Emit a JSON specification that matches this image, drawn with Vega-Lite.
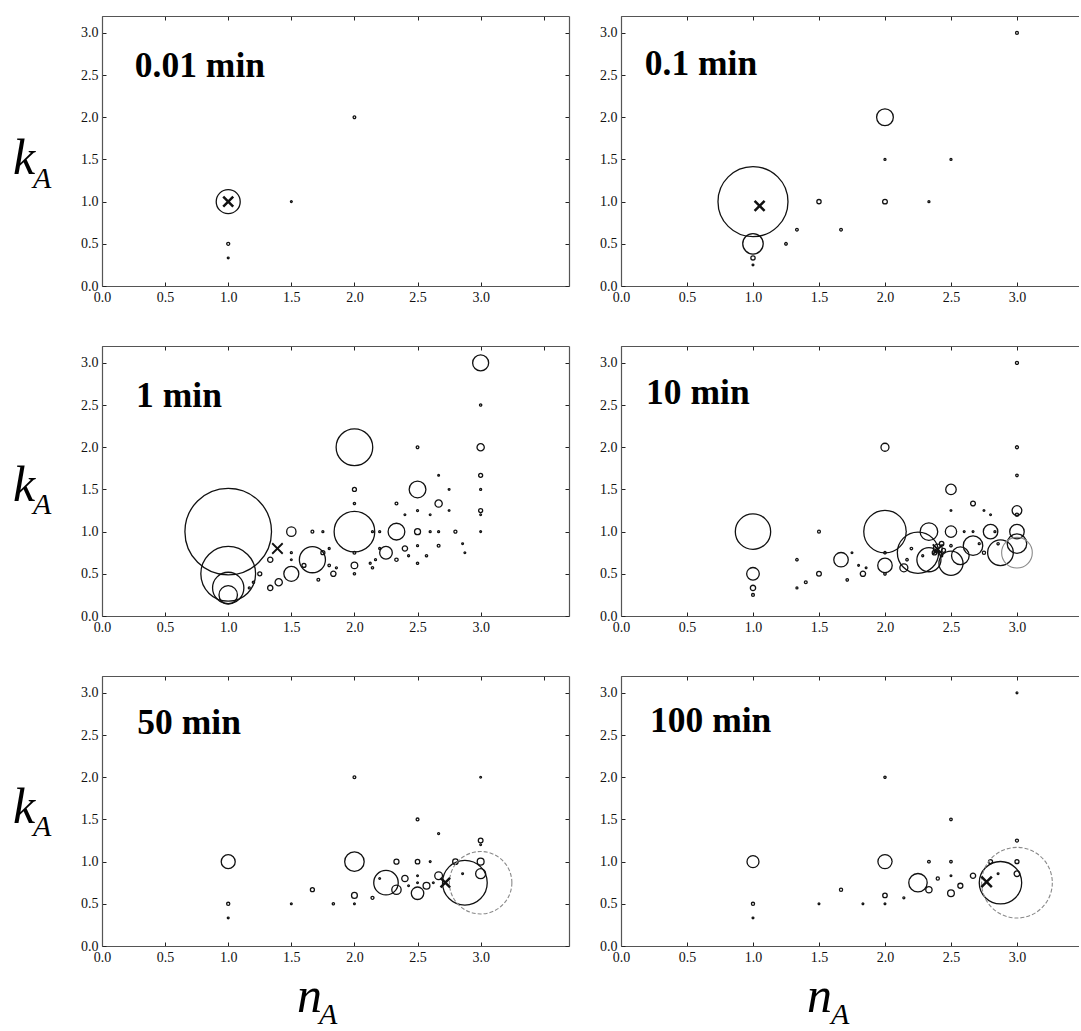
{
"$schema": "https://vega.github.io/schema/vega-lite/v6.json",
"background": "white",
"padding": {"left": 13, "top": 15, "right": 0, "bottom": 0},
"config": {
  "view": {"stroke": null},
  "point": {"filled": false, "color": "#111", "strokeWidth": 1.3, "opacity": 1},
  "text": {"font": "Liberation Serif", "color": "#000", "baseline": "alphabetic"},
  "axis": {"domainColor": "#555", "domainWidth": 1.2, "tickColor": "#222", "tickSize": -4, "tickWidth": 1, "labelFont": "Liberation Serif", "labelFontSize": 14, "labelColor": "#111", "labelPadding": 8, "labelFlush": false, "labelOverlap": false, "grid": false, "title": null}
},
"datasets": {
  "t001": [{"n":1,"k":1,"p":0.0576},{"n":1,"k":0.5,"p":0.0009},{"n":1,"k":0.333,"p":0.0003},{"n":1.5,"k":1,"p":0.0003},{"n":2,"k":2,"p":0.0007}],
  "t01": [{"n":1,"k":1,"p":0.49},{"n":1,"k":0.5,"p":0.042},{"n":1,"k":0.333,"p":0.0018},{"n":1,"k":0.25,"p":0.0003},{"n":1.25,"k":0.5,"p":0.0007},{"n":1.333,"k":0.667,"p":0.0007},{"n":1.667,"k":0.667,"p":0.0007},{"n":1.5,"k":1,"p":0.0018},{"n":2,"k":1,"p":0.0022},{"n":2.333,"k":1,"p":0.0004},{"n":2,"k":2,"p":0.028},{"n":2,"k":1.5,"p":0.0004},{"n":2.5,"k":1.5,"p":0.0004},{"n":3,"k":3,"p":0.0008}],
  "t1": [{"n":1,"k":1,"p":0.75},{"n":1,"k":0.5,"p":0.3},{"n":1,"k":0.333,"p":0.098},{"n":1,"k":0.25,"p":0.034},{"n":1.5,"k":1,"p":0.0087},{"n":1.333,"k":0.667,"p":0.0028},{"n":1.5,"k":0.5,"p":0.0225},{"n":1.667,"k":0.667,"p":0.068},{"n":1.4,"k":0.4,"p":0.0053},{"n":1.333,"k":0.333,"p":0.0028},{"n":1.25,"k":0.5,"p":0.0016},{"n":1.2,"k":0.4,"p":0.0005},{"n":1.167,"k":0.333,"p":0.0004},{"n":1.5,"k":0.75,"p":0.0004},{"n":1.5,"k":0.667,"p":0.0003},{"n":2,"k":2,"p":0.134},{"n":2,"k":1,"p":0.165},{"n":2,"k":1.5,"p":0.0016},{"n":2,"k":1.333,"p":0.0005},{"n":2,"k":0.6,"p":0.0044},{"n":2,"k":0.75,"p":0.0008},{"n":2,"k":0.5,"p":0.0005},{"n":1.75,"k":0.75,"p":0.0016},{"n":1.6,"k":0.6,"p":0.0016},{"n":1.833,"k":0.5,"p":0.0028},{"n":1.714,"k":0.429,"p":0.0008},{"n":1.8,"k":0.6,"p":0.0006},{"n":1.667,"k":1,"p":0.0008},{"n":1.75,"k":1,"p":0.0004},{"n":1.8,"k":0.8,"p":0.0004},{"n":1.857,"k":0.571,"p":0.0004},{"n":2.333,"k":1,"p":0.028},{"n":2.25,"k":0.75,"p":0.016},{"n":2.5,"k":1.5,"p":0.028},{"n":2.5,"k":1,"p":0.0036},{"n":2.4,"k":0.8,"p":0.0028},{"n":2.333,"k":0.667,"p":0.0011},{"n":2.667,"k":1.333,"p":0.0053},{"n":2.5,"k":2,"p":0.0007},{"n":2.333,"k":1.333,"p":0.0008},{"n":2.5,"k":1.25,"p":0.0004},{"n":2.4,"k":1.2,"p":0.0003},{"n":2.6,"k":1.2,"p":0.0003},{"n":2.667,"k":1.667,"p":0.0003},{"n":2.75,"k":1.5,"p":0.0003},{"n":2.75,"k":1.25,"p":0.0003},{"n":2.8,"k":1,"p":0.0009},{"n":2.6,"k":1,"p":0.0004},{"n":2.667,"k":1,"p":0.0004},{"n":2.5,"k":0.833,"p":0.0004},{"n":2.667,"k":0.833,"p":0.0008},{"n":2.571,"k":0.714,"p":0.0005},{"n":2.5,"k":0.625,"p":0.0005},{"n":2.429,"k":0.714,"p":0.0004},{"n":2.857,"k":0.857,"p":0.0003},{"n":2.875,"k":0.75,"p":0.0003},{"n":2.143,"k":0.571,"p":0.0005},{"n":2.125,"k":0.625,"p":0.0004},{"n":2.167,"k":0.667,"p":0.0004},{"n":2.2,"k":0.8,"p":0.0004},{"n":2.2,"k":1,"p":0.0004},{"n":2.143,"k":1,"p":0.0004},{"n":3,"k":3,"p":0.0256},{"n":3,"k":2,"p":0.0053},{"n":3,"k":2.5,"p":0.0005},{"n":3,"k":1.667,"p":0.0016},{"n":3,"k":1.5,"p":0.0004},{"n":3,"k":1.25,"p":0.0016},{"n":3,"k":1.2,"p":0.0003},{"n":3,"k":1,"p":0.0003}],
  "t10": [{"n":1,"k":1,"p":0.125},{"n":1,"k":0.5,"p":0.016},{"n":1,"k":0.333,"p":0.0028},{"n":1,"k":0.25,"p":0.0008},{"n":1.333,"k":0.667,"p":0.0006},{"n":1.333,"k":0.333,"p":0.0004},{"n":1.4,"k":0.4,"p":0.0008},{"n":1.5,"k":1,"p":0.0008},{"n":1.5,"k":0.5,"p":0.0022},{"n":1.667,"k":0.667,"p":0.021},{"n":1.714,"k":0.429,"p":0.0006},{"n":1.75,"k":0.75,"p":0.0003},{"n":1.8,"k":0.6,"p":0.0003},{"n":1.857,"k":0.571,"p":0.0003},{"n":1.833,"k":0.5,"p":0.0028},{"n":2,"k":2,"p":0.0064},{"n":2,"k":1,"p":0.18},{"n":2,"k":0.6,"p":0.021},{"n":2,"k":0.75,"p":0.0006},{"n":2,"k":0.5,"p":0.0006},{"n":2.143,"k":0.571,"p":0.0064},{"n":2.167,"k":0.667,"p":0.0006},{"n":2.2,"k":0.8,"p":0.0006},{"n":2.25,"k":0.75,"p":0.17},{"n":2.333,"k":1,"p":0.031},{"n":2.333,"k":0.667,"p":0.058},{"n":2.4,"k":0.8,"p":0.008},{"n":2.429,"k":0.857,"p":0.002},{"n":2.375,"k":0.75,"p":0.002},{"n":2.444,"k":0.778,"p":0.0015},{"n":2.286,"k":0.714,"p":0.0004},{"n":2.429,"k":0.714,"p":0.0005},{"n":2.5,"k":1,"p":0.0128},{"n":2.5,"k":1.25,"p":0.0003},{"n":2.5,"k":1.5,"p":0.011},{"n":2.5,"k":0.625,"p":0.058},{"n":2.5,"k":0.833,"p":0.0006},{"n":2.571,"k":0.714,"p":0.031},{"n":2.667,"k":0.833,"p":0.038},{"n":2.667,"k":1.333,"p":0.0023},{"n":2.6,"k":1,"p":0.0003},{"n":2.667,"k":1,"p":0.0003},{"n":2.75,"k":1.25,"p":0.0003},{"n":2.8,"k":1.2,"p":0.0003},{"n":2.75,"k":0.75,"p":0.001},{"n":2.714,"k":0.857,"p":0.0004},{"n":2.8,"k":1,"p":0.021},{"n":2.833,"k":1,"p":0.0004},{"n":2.875,"k":0.75,"p":0.066},{"n":2.857,"k":0.857,"p":0.0005},{"n":3,"k":1,"p":0.021},{"n":3,"k":0.857,"p":0.038},{"n":3,"k":1.25,"p":0.0094},{"n":3,"k":1.2,"p":0.001},{"n":3,"k":1.667,"p":0.0006},{"n":3,"k":2,"p":0.0009},{"n":3,"k":3,"p":0.0009}],
  "t50": [{"n":1,"k":1,"p":0.0196},{"n":1,"k":0.5,"p":0.001},{"n":1,"k":0.333,"p":0.0003},{"n":1.5,"k":0.5,"p":0.0003},{"n":1.667,"k":0.667,"p":0.0016},{"n":1.833,"k":0.5,"p":0.0005},{"n":2,"k":2,"p":0.0008},{"n":2,"k":1,"p":0.038},{"n":2,"k":0.6,"p":0.0034},{"n":2,"k":0.5,"p":0.0003},{"n":2.143,"k":0.571,"p":0.0009},{"n":2.2,"k":0.8,"p":0.0003},{"n":2.25,"k":0.75,"p":0.06},{"n":2.333,"k":0.667,"p":0.0088},{"n":2.333,"k":1,"p":0.0025},{"n":2.4,"k":0.8,"p":0.004},{"n":2.429,"k":0.714,"p":0.0003},{"n":2.5,"k":0.625,"p":0.0156},{"n":2.5,"k":1,"p":0.002},{"n":2.5,"k":1.5,"p":0.0008},{"n":2.5,"k":0.833,"p":0.0003},{"n":2.5,"k":0.75,"p":0.0003},{"n":2.571,"k":0.714,"p":0.0047},{"n":2.6,"k":1,"p":0.0003},{"n":2.625,"k":0.75,"p":0.0003},{"n":2.667,"k":1.333,"p":0.0004},{"n":2.667,"k":0.833,"p":0.006},{"n":2.8,"k":1,"p":0.003},{"n":2.875,"k":0.75,"p":0.2},{"n":2.857,"k":0.857,"p":0.0003},{"n":3,"k":1,"p":0.0047},{"n":3,"k":0.857,"p":0.01},{"n":3,"k":1.25,"p":0.0022},{"n":3,"k":1.2,"p":0.0003},{"n":3,"k":2,"p":0.0003}],
  "t100": [{"n":1,"k":1,"p":0.0144},{"n":1,"k":0.5,"p":0.001},{"n":1,"k":0.333,"p":0.0003},{"n":1.5,"k":0.5,"p":0.0003},{"n":1.667,"k":0.667,"p":0.001},{"n":1.833,"k":0.5,"p":0.0003},{"n":2,"k":2,"p":0.0005},{"n":2,"k":1,"p":0.02},{"n":2,"k":0.6,"p":0.002},{"n":2,"k":0.5,"p":0.0003},{"n":2.143,"k":0.571,"p":0.0004},{"n":2.25,"k":0.75,"p":0.034},{"n":2.333,"k":0.667,"p":0.004},{"n":2.333,"k":1,"p":0.0007},{"n":2.4,"k":0.8,"p":0.001},{"n":2.5,"k":1,"p":0.0006},{"n":2.5,"k":1.5,"p":0.0006},{"n":2.5,"k":0.833,"p":0.0003},{"n":2.5,"k":0.625,"p":0.0045},{"n":2.571,"k":0.714,"p":0.0025},{"n":2.667,"k":0.833,"p":0.0028},{"n":2.8,"k":1,"p":0.0016},{"n":2.875,"k":0.75,"p":0.18},{"n":2.857,"k":0.857,"p":0.0003},{"n":3,"k":1,"p":0.0016},{"n":3,"k":0.857,"p":0.0032},{"n":3,"k":1.25,"p":0.0009},{"n":3,"k":3,"p":0.0003}],
  "xm": [{"t":"0.01","n":1,"k":1},{"t":"0.1","n":1.05,"k":0.95},{"t":"1","n":1.39,"k":0.8},{"t":"10","n":2.4,"k":0.79},{"t":"50","n":2.72,"k":0.75},{"t":"100","n":2.77,"k":0.76}],
  "outer": [{"t":"10","n":3,"k":0.75,"p":0.094},{"t":"50","n":3,"k":0.75,"p":0.39},{"t":"100","n":3,"k":0.75,"p":0.5}]
},
"columns": 2,
"spacing": {"row": 60, "column": 52},
"bounds": "flush",
"concat": [
  {"width": 467, "height": 270, "resolve": {"axis": {"x": "independent", "y": "independent"}}, "layer": [
   {"data": {"name": "t001"}, "mark": {"type": "point", "shape": "circle"}, "encoding": {
     "x": {"field": "n", "type": "quantitative", "scale": {"domain": [0, 3.7], "nice": false, "zero": false}, "axis": {"orient": "bottom", "values": [0,0.5,1,1.5,2,2.5,3], "format": ".1f"}},
     "y": {"field": "k", "type": "quantitative", "scale": {"domain": [0, 3.2], "nice": false}, "axis": {"orient": "left", "values": [0,0.5,1,1.5,2,2.5,3], "format": ".1f"}},
     "size": {"field": "p", "type": "quantitative", "scale": {"domain": [0, 1], "range": [0, 10000]}, "legend": null}}},
   {"data": {"name": "xm"}, "transform": [{"filter": "datum.t == '0.01'"}], "mark": {"type": "point", "shape": "M-1,-1L1,1M-1,1L1,-1", "strokeWidth": 2.5, "size": 100}, "encoding": {
     "x": {"field": "n", "type": "quantitative", "axis": {"orient": "top", "labels": false, "values": [0,0.5,1,1.5,2,2.5,3,3.5]}},
     "y": {"field": "k", "type": "quantitative", "axis": {"orient": "right", "labels": false, "values": [0,0.5,1,1.5,2,2.5,3]}}}},
   {"data": {"values": [{}]}, "mark": {"type": "text", "text": "0.01 min", "fontWeight": "bold", "fontSize": 35.5, "align": "left"}, "encoding": {"x": {"datum": 0.26, "axis": null}, "y": {"datum": 2.48, "axis": null}}},
   {"data": {"values": [{}]}, "mark": {"type": "text", "text": "k", "fontStyle": "italic", "fontSize": 50, "align": "left", "dx": -89, "dy": 23}, "encoding": {"x": {"datum": 0, "axis": null}, "y": {"datum": 1.6, "axis": null}}},
   {"data": {"values": [{}]}, "mark": {"type": "text", "text": "A", "fontStyle": "italic", "fontSize": 30, "align": "left", "dx": -69, "dy": 37}, "encoding": {"x": {"datum": 0, "axis": null}, "y": {"datum": 1.6, "axis": null}}}
  ]},
  {"width": 458, "height": 270, "resolve": {"axis": {"x": "independent", "y": "independent"}}, "layer": [
   {"data": {"name": "t01"}, "mark": {"type": "point", "shape": "circle"}, "encoding": {
     "x": {"field": "n", "type": "quantitative", "scale": {"domain": [0, 3.47], "nice": false, "zero": false}, "axis": {"orient": "bottom", "values": [0,0.5,1,1.5,2,2.5,3], "format": ".1f"}},
     "y": {"field": "k", "type": "quantitative", "scale": {"domain": [0, 3.2], "nice": false}, "axis": {"orient": "left", "values": [0,0.5,1,1.5,2,2.5,3], "format": ".1f"}},
     "size": {"field": "p", "type": "quantitative", "scale": {"domain": [0, 1], "range": [0, 10000]}, "legend": null}}},
   {"data": {"name": "xm"}, "transform": [{"filter": "datum.t == '0.1'"}], "mark": {"type": "point", "shape": "M-1,-1L1,1M-1,1L1,-1", "strokeWidth": 2.5, "size": 100}, "encoding": {
     "x": {"field": "n", "type": "quantitative", "axis": {"orient": "top", "labels": false, "values": [0,0.5,1,1.5,2,2.5,3]}},
     "y": {"field": "k", "type": "quantitative", "axis": null}}},
   {"data": {"values": [{}]}, "mark": {"type": "text", "text": "0.1 min", "fontWeight": "bold", "fontSize": 35.5, "align": "left"}, "encoding": {"x": {"datum": 0.18, "axis": null}, "y": {"datum": 2.5, "axis": null}}}
  ]},
  {"width": 467, "height": 270, "resolve": {"axis": {"x": "independent", "y": "independent"}}, "layer": [
   {"data": {"name": "t1"}, "mark": {"type": "point", "shape": "circle"}, "encoding": {
     "x": {"field": "n", "type": "quantitative", "scale": {"domain": [0, 3.7], "nice": false, "zero": false}, "axis": {"orient": "bottom", "values": [0,0.5,1,1.5,2,2.5,3], "format": ".1f"}},
     "y": {"field": "k", "type": "quantitative", "scale": {"domain": [0, 3.2], "nice": false}, "axis": {"orient": "left", "values": [0,0.5,1,1.5,2,2.5,3], "format": ".1f"}},
     "size": {"field": "p", "type": "quantitative", "scale": {"domain": [0, 1], "range": [0, 10000]}, "legend": null}}},
   {"data": {"name": "xm"}, "transform": [{"filter": "datum.t == '1'"}], "mark": {"type": "point", "shape": "M-1,-1L1,1M-1,1L1,-1", "strokeWidth": 1.8, "size": 110}, "encoding": {
     "x": {"field": "n", "type": "quantitative", "axis": {"orient": "top", "labels": false, "values": [0,0.5,1,1.5,2,2.5,3,3.5]}},
     "y": {"field": "k", "type": "quantitative", "axis": {"orient": "right", "labels": false, "values": [0,0.5,1,1.5,2,2.5,3]}}}},
   {"data": {"values": [{}]}, "mark": {"type": "text", "text": "1 min", "fontWeight": "bold", "fontSize": 35.5, "align": "left"}, "encoding": {"x": {"datum": 0.27, "axis": null}, "y": {"datum": 2.48, "axis": null}}},
   {"data": {"values": [{}]}, "mark": {"type": "text", "text": "k", "fontStyle": "italic", "fontSize": 50, "align": "left", "dx": -89, "dy": 20}, "encoding": {"x": {"datum": 0, "axis": null}, "y": {"datum": 1.6, "axis": null}}},
   {"data": {"values": [{}]}, "mark": {"type": "text", "text": "A", "fontStyle": "italic", "fontSize": 30, "align": "left", "dx": -69, "dy": 33}, "encoding": {"x": {"datum": 0, "axis": null}, "y": {"datum": 1.6, "axis": null}}}
  ]},
  {"width": 458, "height": 270, "resolve": {"axis": {"x": "independent", "y": "independent"}}, "layer": [
   {"data": {"name": "t10"}, "mark": {"type": "point", "shape": "circle"}, "encoding": {
     "x": {"field": "n", "type": "quantitative", "scale": {"domain": [0, 3.47], "nice": false, "zero": false}, "axis": {"orient": "bottom", "values": [0,0.5,1,1.5,2,2.5,3], "format": ".1f"}},
     "y": {"field": "k", "type": "quantitative", "scale": {"domain": [0, 3.2], "nice": false}, "axis": {"orient": "left", "values": [0,0.5,1,1.5,2,2.5,3], "format": ".1f"}},
     "size": {"field": "p", "type": "quantitative", "scale": {"domain": [0, 1], "range": [0, 10000]}, "legend": null}}},
   {"data": {"name": "outer"}, "transform": [{"filter": "datum.t == '10'"}], "mark": {"type": "point", "shape": "circle", "color": "#8a8a8a", "strokeWidth": 1.1}, "encoding": {
     "x": {"field": "n", "type": "quantitative", "axis": null},
     "y": {"field": "k", "type": "quantitative", "axis": null},
     "size": {"field": "p", "type": "quantitative", "scale": {"domain": [0, 1], "range": [0, 10000]}, "legend": null}}},
   {"data": {"name": "xm"}, "transform": [{"filter": "datum.t == '10'"}], "mark": {"type": "point", "shape": "M-1,-1L1,1M-1,1L1,-1", "strokeWidth": 2, "size": 100}, "encoding": {
     "x": {"field": "n", "type": "quantitative", "axis": {"orient": "top", "labels": false, "values": [0,0.5,1,1.5,2,2.5,3]}},
     "y": {"field": "k", "type": "quantitative", "axis": null}}},
   {"data": {"values": [{}]}, "mark": {"type": "text", "text": "10 min", "fontWeight": "bold", "fontSize": 35.5, "align": "left"}, "encoding": {"x": {"datum": 0.19, "axis": null}, "y": {"datum": 2.51, "axis": null}}}
  ]},
  {"width": 467, "height": 270, "resolve": {"axis": {"x": "independent", "y": "independent"}}, "layer": [
   {"data": {"name": "t50"}, "mark": {"type": "point", "shape": "circle"}, "encoding": {
     "x": {"field": "n", "type": "quantitative", "scale": {"domain": [0, 3.7], "nice": false, "zero": false}, "axis": {"orient": "bottom", "values": [0,0.5,1,1.5,2,2.5,3], "format": ".1f"}},
     "y": {"field": "k", "type": "quantitative", "scale": {"domain": [0, 3.2], "nice": false}, "axis": {"orient": "left", "values": [0,0.5,1,1.5,2,2.5,3], "format": ".1f"}},
     "size": {"field": "p", "type": "quantitative", "scale": {"domain": [0, 1], "range": [0, 10000]}, "legend": null}}},
   {"data": {"name": "outer"}, "transform": [{"filter": "datum.t == '50'"}], "mark": {"type": "point", "shape": "circle", "color": "#8a8a8a", "strokeWidth": 1.1, "strokeDash": [4, 2]}, "encoding": {
     "x": {"field": "n", "type": "quantitative", "axis": null},
     "y": {"field": "k", "type": "quantitative", "axis": null},
     "size": {"field": "p", "type": "quantitative", "scale": {"domain": [0, 1], "range": [0, 10000]}, "legend": null}}},
   {"data": {"name": "xm"}, "transform": [{"filter": "datum.t == '50'"}], "mark": {"type": "point", "shape": "M-1,-1L1,1M-1,1L1,-1", "strokeWidth": 2.5, "size": 90}, "encoding": {
     "x": {"field": "n", "type": "quantitative", "axis": {"orient": "top", "labels": false, "values": [0,0.5,1,1.5,2,2.5,3,3.5]}},
     "y": {"field": "k", "type": "quantitative", "axis": {"orient": "right", "labels": false, "values": [0,0.5,1,1.5,2,2.5,3]}}}},
   {"data": {"values": [{}]}, "mark": {"type": "text", "text": "50 min", "fontWeight": "bold", "fontSize": 35.5, "align": "left"}, "encoding": {"x": {"datum": 0.28, "axis": null}, "y": {"datum": 2.51, "axis": null}}},
   {"data": {"values": [{}]}, "mark": {"type": "text", "text": "k", "fontStyle": "italic", "fontSize": 50, "align": "left", "dx": -89, "dy": 12}, "encoding": {"x": {"datum": 0, "axis": null}, "y": {"datum": 1.6, "axis": null}}},
   {"data": {"values": [{}]}, "mark": {"type": "text", "text": "A", "fontStyle": "italic", "fontSize": 30, "align": "left", "dx": -69, "dy": 25}, "encoding": {"x": {"datum": 0, "axis": null}, "y": {"datum": 1.6, "axis": null}}},
   {"data": {"values": [{}]}, "mark": {"type": "text", "text": "n", "fontStyle": "italic", "fontSize": 50, "align": "left", "dy": 66}, "encoding": {"x": {"datum": 1.545, "axis": null}, "y": {"datum": 0, "axis": null}}},
   {"data": {"values": [{}]}, "mark": {"type": "text", "text": "A", "fontStyle": "italic", "fontSize": 30, "align": "left", "dx": 22, "dy": 78}, "encoding": {"x": {"datum": 1.545, "axis": null}, "y": {"datum": 0, "axis": null}}}
  ]},
  {"width": 458, "height": 270, "resolve": {"axis": {"x": "independent", "y": "independent"}}, "layer": [
   {"data": {"name": "t100"}, "mark": {"type": "point", "shape": "circle"}, "encoding": {
     "x": {"field": "n", "type": "quantitative", "scale": {"domain": [0, 3.47], "nice": false, "zero": false}, "axis": {"orient": "bottom", "values": [0,0.5,1,1.5,2,2.5,3], "format": ".1f"}},
     "y": {"field": "k", "type": "quantitative", "scale": {"domain": [0, 3.2], "nice": false}, "axis": {"orient": "left", "values": [0,0.5,1,1.5,2,2.5,3], "format": ".1f"}},
     "size": {"field": "p", "type": "quantitative", "scale": {"domain": [0, 1], "range": [0, 10000]}, "legend": null}}},
   {"data": {"name": "outer"}, "transform": [{"filter": "datum.t == '100'"}], "mark": {"type": "point", "shape": "circle", "color": "#8a8a8a", "strokeWidth": 1.1, "strokeDash": [4, 2]}, "encoding": {
     "x": {"field": "n", "type": "quantitative", "axis": null},
     "y": {"field": "k", "type": "quantitative", "axis": null},
     "size": {"field": "p", "type": "quantitative", "scale": {"domain": [0, 1], "range": [0, 10000]}, "legend": null}}},
   {"data": {"name": "xm"}, "transform": [{"filter": "datum.t == '100'"}], "mark": {"type": "point", "shape": "M-1,-1L1,1M-1,1L1,-1", "strokeWidth": 2.5, "size": 110}, "encoding": {
     "x": {"field": "n", "type": "quantitative", "axis": {"orient": "top", "labels": false, "values": [0,0.5,1,1.5,2,2.5,3]}},
     "y": {"field": "k", "type": "quantitative", "axis": null}}},
   {"data": {"values": [{}]}, "mark": {"type": "text", "text": "100 min", "fontWeight": "bold", "fontSize": 35.5, "align": "left"}, "encoding": {"x": {"datum": 0.22, "axis": null}, "y": {"datum": 2.54, "axis": null}}},
   {"data": {"values": [{}]}, "mark": {"type": "text", "text": "n", "fontStyle": "italic", "fontSize": 50, "align": "left", "dy": 66}, "encoding": {"x": {"datum": 1.41, "axis": null}, "y": {"datum": 0, "axis": null}}},
   {"data": {"values": [{}]}, "mark": {"type": "text", "text": "A", "fontStyle": "italic", "fontSize": 30, "align": "left", "dx": 24, "dy": 78}, "encoding": {"x": {"datum": 1.41, "axis": null}, "y": {"datum": 0, "axis": null}}}
  ]}
]
}
